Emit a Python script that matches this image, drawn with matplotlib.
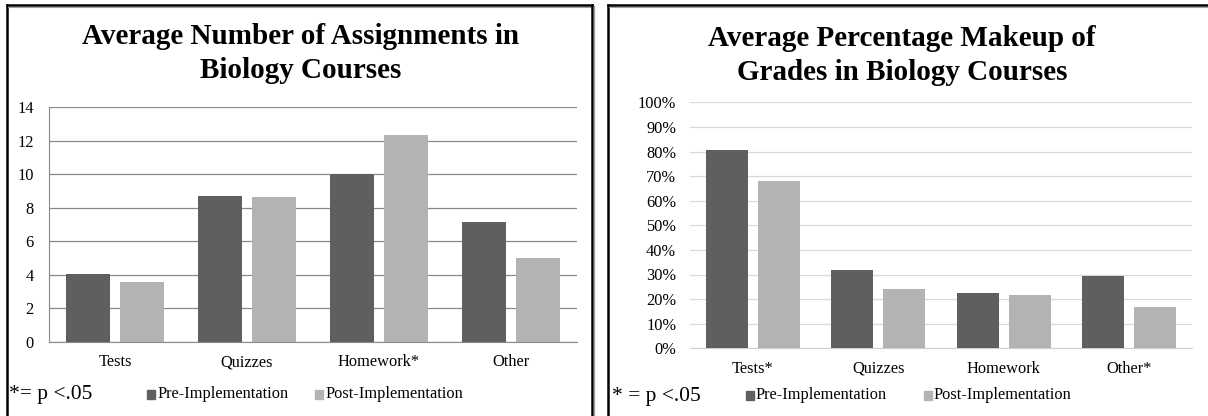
import numpy as np
import matplotlib
matplotlib.use("Agg")
import matplotlib.pyplot as plt
from matplotlib.lines import Line2D
from matplotlib.patches import Rectangle

plt.rcParams["font.family"] = ["Liberation Serif", "DejaVu Serif"]

# data
categories_left = ["Tests", "Quizzes", "Homework*", "Other"]
pre_counts = [4.05, 8.70, 10.03, 7.13]
post_counts = [3.57, 8.64, 12.33, 4.99]

categories_right = ["Tests*", "Quizzes", "Homework", "Other*"]
pre_pct = [80.6, 31.7, 22.5, 29.2]
post_pct = [68.0, 24.1, 21.8, 16.7]

series_names = ["Pre-Implementation", "Post-Implementation"]
PRE_COLOR = "#5f5f5f"
POST_COLOR = "#b3b3b3"

W, H = 1208, 416
fig = plt.figure(figsize=(W / 100, H / 100), dpi=100)


def px_axes(x0, y0, x1, y1):
    """Axes from pixel box (top-left origin)."""
    return fig.add_axes([x0 / W, 1 - y1 / H, (x1 - x0) / W, (y1 - y0) / H])


def fx(x):
    return x / W


def fy(y):
    return 1 - y / H


def draw_bars(ax, pre, post):
    x = np.arange(len(pre))
    w = 0.333
    off = 0.208
    ax.bar(x - off, pre, w, color=PRE_COLOR, zorder=3)
    ax.bar(x + off, post, w, color=POST_COLOR, zorder=3)
    ax.set_xlim(-0.5, len(pre) - 0.5)
    ax.set_xticks(x)
    ax.tick_params(length=0)
    for s in ["top", "right"]:
        ax.spines[s].set_visible(False)


def draw_legend(y, pre_x, post_x, note_x, note):
    fig.text(fx(note_x), fy(y), note, fontsize=15.5, va="center", ha="left")
    for sx, name, col in [(pre_x, series_names[0], PRE_COLOR), (post_x, series_names[1], POST_COLOR)]:
        fig.patches.append(Rectangle((fx(sx), fy(y + 4)), 8 / W, 9 / H,
                                     transform=fig.transFigure, color=col))
        fig.text(fx(sx + 10), fy(y - 1), name, fontsize=11.8, va="center", ha="left")


def draw_border(x0, x1, y0, right=True):
    kw = dict(transform=fig.transFigure, color="black", lw=1.8)
    fig.lines.append(Line2D([fx(x0), fx(x0)], [fy(y0), 0], **kw))
    fig.lines.append(Line2D([fx(x0), fx(x1)], [fy(y0), fy(y0)], **kw))
    fig.lines.append(Line2D([fx(x0 + 1), fx(x1)], [fy(y0 + 2), fy(y0 + 2)],
                            transform=fig.transFigure, color="#a0a0a0", lw=0.8))
    if right:
        fig.lines.append(Line2D([fx(x1), fx(x1)], [fy(y0), 0], **kw))
        fig.lines.append(Line2D([fx(x1 + 2), fx(x1 + 2)], [fy(y0 + 1), 0],
                                transform=fig.transFigure, color="#a0a0a0", lw=1.0))


# ---- left panel
axl = px_axes(49, 107, 577, 342)
draw_bars(axl, pre_counts, post_counts)
axl.set_ylim(0, 14)
axl.set_yticks(np.arange(0, 15, 2))
axl.set_xticklabels(categories_left, fontsize=11.8)
axl.tick_params(axis="x", pad=9)
axl.tick_params(axis="y", labelsize=11.8, pad=11)
axl.grid(axis="y", color="#8a8a8a", lw=0.9, zorder=0)
axl.spines["left"].set_color("#8a8a8a")
axl.spines["bottom"].set_color("#8a8a8a")
fig.text(fx(301), fy(37), "Average Number of Assignments in", fontsize=21,
         weight="bold", ha="center", va="center")
fig.text(fx(301), fy(71), "Biology Courses", fontsize=21,
         weight="bold", ha="center", va="center")
draw_legend(395, 147, 315, 9, "*= p <.05")
draw_border(7, 592, 5)

# ---- right panel
axr = px_axes(690, 102.3, 1192, 348.3)
draw_bars(axr, pre_pct, post_pct)
axr.set_ylim(0, 100)
axr.set_yticks(np.arange(0, 101, 10))
axr.set_yticklabels([f"{v}%" for v in range(0, 101, 10)], fontsize=11.8)
axr.set_xticklabels(categories_right, fontsize=11.8)
axr.tick_params(axis="x", pad=9)
axr.tick_params(axis="y", pad=10)
axr.grid(axis="y", color="#d9d9d9", lw=0.9, zorder=0)
axr.spines["left"].set_visible(False)
axr.spines["bottom"].set_color("#d0d0d0")
fig.text(fx(902), fy(38), "Average Percentage Makeup of", fontsize=21,
         weight="bold", ha="center", va="center")
fig.text(fx(902), fy(72), "Grades in Biology Courses", fontsize=21,
         weight="bold", ha="center", va="center")
draw_legend(396, 746, 924, 612, "* = p <.05")
draw_border(608, 1209, 5, right=False)

fig.savefig("out.png", dpi=100)
